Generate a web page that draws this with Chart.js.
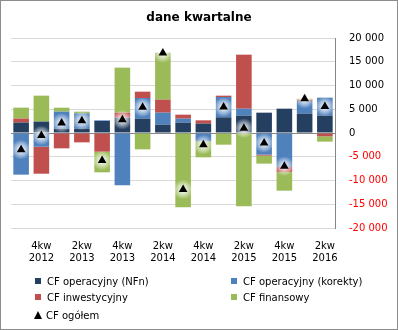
<!DOCTYPE html>
<html>
<head>
<meta charset="utf-8">
<script src="https://cdn.jsdelivr.net/npm/chart.js@4/dist/chart.umd.min.js"></script>
<style>
    html, body { margin: 0; padding: 0; background: #fff; }
    #wrap { position: relative; width: 398px; height: 330px; font-family: "DejaVu Sans", sans-serif; color: #000; }
    #frame { position: absolute; left: 0; top: 0; width: 398px; height: 330px; box-sizing: border-box; border: 1px solid #8c8c8c; pointer-events: none; }
    #title { position: absolute; left: 0; top: 10px; width: 398px; text-align: center; font-weight: bold; font-size: 12px; }
    .leg { position: absolute; font-size: 10px; line-height: 12px; white-space: nowrap; }
    .leg i { display: inline-block; width: 6px; height: 6px; margin-right: 6px; vertical-align: 1px; }
    .leg b { display: inline-block; width: 0; height: 0; border-left: 4px solid transparent; border-right: 4px solid transparent; border-bottom: 8px solid #000; margin-right: 4px; vertical-align: 0; }
</style>
</head>
<body>
<div id="wrap">
    <canvas id="chart" width="398" height="330"></canvas>
    <div id="title">dane kwartalne</div>
    <div id="legend"></div>
    <div id="frame"></div>
</div>
<script>
// kwartały (3kw 2012 - 2kw 2016)
const quarters = [
    ['3kw', '2012'], ['4kw', '2012'], ['1kw', '2013'], ['2kw', '2013'],
    ['3kw', '2013'], ['4kw', '2013'], ['1kw', '2014'], ['2kw', '2014'],
    ['3kw', '2014'], ['4kw', '2014'], ['1kw', '2015'], ['2kw', '2015'],
    ['3kw', '2015'], ['4kw', '2015'], ['1kw', '2016'], ['2kw', '2016']
];

// wartości
const cfNfn     = [2200, 2400, 900, 900, 2530, 3230, 3020, 1750, 2180, 1970, 3300, 3650, 4280, 5120, 4070, 3650];
const cfKorekty = [-8770, -2880, 3590, 3240, 140, -11020, 4350, 2530, 840, -1750, 4280, 1470, -4560, -7160, 2670, 3790];
const cfInwest  = [840, -5690, -3230, -1970, -3930, 1050, 1330, 2740, 840, 700, 280, 11370, -210, -1050, 280, -700];
const cfFinans  = [2300, 5460, 840, 350, -4350, 9480, -3440, 9900, -15650, -3370, -2460, -15440, -1680, -3930, 210, -1120];
const cfOgolem  = [-3500, -500, 2100, 2600, -5800, 2800, 5400, 16850, -11900, -2450, 5450, 1000, -2100, -7000, 7200, 5600];

const yMin = -20000, yMax = 20000, yStep = 5000;

const colors = {
    nfn: '#243F60',
    korekty: '#4F81BD',
    inwest: '#C0504D',
    finans: '#9BBB59'
};

const FONT = '"DejaVu Sans", sans-serif';

// format "20 000"
function fmtNum(v) {
    const s = Math.abs(v).toString().replace(/\B(?=(\d{3})+(?!\d))/g, ' ');
    return (v < 0 ? '-' : '') + s;
}

// poświata wokół trójkątów (jak w Excelu)
const glowPlugin = {
    id: 'glow',
    beforeDatasetDraw(chart, args) {
        if (args.meta.type !== 'line') return;
        const ctx = chart.ctx;
        ctx.save();
        args.meta.data.forEach(pt => {
            const g = ctx.createRadialGradient(pt.x, pt.y, 2, pt.x, pt.y, 10);
            g.addColorStop(0, 'rgba(255,255,255,0.85)');
            g.addColorStop(0.5, 'rgba(255,255,255,0.45)');
            g.addColorStop(1, 'rgba(255,255,255,0)');
            ctx.fillStyle = g;
            ctx.beginPath();
            ctx.arc(pt.x, pt.y, 10, 0, Math.PI * 2);
            ctx.fill();
        });
        ctx.restore();
    }
};

const barDs = (label, data, color) => ({
    type: 'bar',
    label,
    data,
    backgroundColor: color,
    borderWidth: 0,
    categoryPercentage: 1,
    barPercentage: 0.77,
    stack: 'cf'
});

new Chart(document.getElementById('chart').getContext('2d'), {
    data: {
        labels: quarters,
        datasets: [
            {
                type: 'line',
                label: 'CF ogółem',
                data: cfOgolem,
                showLine: false,
                pointStyle: 'triangle',
                pointRadius: 5,
                pointBackgroundColor: '#000',
                pointBorderColor: '#000',
                pointBorderWidth: 0,
                stack: 'total',
                order: -1
            },
            barDs('CF operacyjny (NFn)', cfNfn, colors.nfn),
            barDs('CF operacyjny (korekty)', cfKorekty, colors.korekty),
            barDs('CF inwestycyjny', cfInwest, colors.inwest),
            barDs('CF finansowy', cfFinans, colors.finans)
        ]
    },
    options: {
        responsive: false,
        devicePixelRatio: 1,
        animation: false,
        layout: { padding: { left: 11, top: 38, right: 0, bottom: 60 } },
        plugins: {
            legend: { display: false },
            title: { display: false },
            tooltip: { enabled: false }
        },
        scales: {
            x: {
                stacked: true,
                grid: { display: false },
                border: { display: false },
                ticks: {
                    autoSkip: false,
                    maxRotation: 0,
                    padding: 4,
                    color: '#000',
                    font: { family: FONT, size: 10, lineHeight: 1.25 },
                    callback: (v, i) => (i % 2 === 1 ? quarters[i] : '')
                },
                afterFit: s => { s.height = 42; }
            },
            y: {
                position: 'right',
                stacked: true,
                min: yMin,
                max: yMax,
                grid: {
                    drawTicks: false,
                    color: c => (c.tick.value === 0 ? '#868686' : '#d9d9d9'),
                    lineWidth: 1
                },
                border: { display: true, color: '#868686' },
                ticks: {
                    stepSize: yStep,
                    padding: 14,
                    color: c => (c.tick.value < 0 ? '#ff0000' : '#000'),
                    font: { family: FONT, size: 10 },
                    callback: v => fmtNum(v)
                },
                afterFit: s => { s.width = 63; }
            }
        }
    },
    plugins: [glowPlugin]
});

// legenda (dwie kolumny jak w oryginale)
const legendItems = [
    { text: 'CF operacyjny (NFn)', color: colors.nfn, x: 35, y: 276 },
    { text: 'CF operacyjny (korekty)', color: colors.korekty, x: 231, y: 276 },
    { text: 'CF inwestycyjny', color: colors.inwest, x: 35, y: 292 },
    { text: 'CF finansowy', color: colors.finans, x: 231, y: 292 },
    { text: 'CF ogółem', tri: true, x: 34, y: 310 }
];
document.getElementById('legend').innerHTML = legendItems.map(it => `
    <div class="leg" style="left:${it.x}px;top:${it.y}px">
        ${it.tri ? '<b></b>' : `<i style="background:${it.color}"></i>`}${it.text}
    </div>`).join('');
</script>
</body>
</html>
